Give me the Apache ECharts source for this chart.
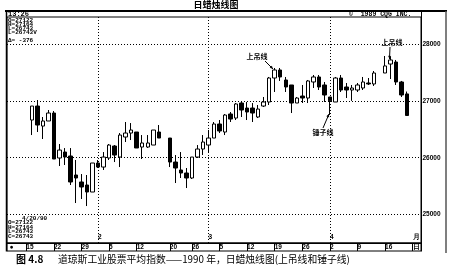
<!DOCTYPE html>
<html><head><meta charset="utf-8">
<script src="https://cdn.jsdelivr.net/npm/echarts@6.0.0/dist/echarts.min.js"></script>
<style>html,body{margin:0;padding:0;background:#fff}#c{width:450px;height:266px}</style>
</head><body><div id="c"></div>
<script>
// ---- data (Dow Jones Industrial Average x10, Jan 15 - Apr 20, 1990; one entry per weekday) ----
const opens  = [null,26663,26909,26557,26646,26786,25995,26100,26030,25696,25573,25520,25397,25907,25836,25995,26206,26012,26364,26434,26452,26188,26188,26223,26452,null,26346,25924,25784,25731,25643,26012,26153,26223,26346,26593,26452,26769,26698,26962,26874,26874,26716,26909,26980,27402,27543,27367,27279,26962,27085,27050,27332,27420,27279,27068,26980,27402,27244,27191,27191,27226,27314,27297,null,27490,27648,27683,27332,27122];
const closes = [null,26909,26575,26646,26786,25977,26135,26012,25573,25643,25485,25397,25907,25836,26012,26223,26047,26399,26434,26487,26171,26259,26259,26487,26346,null,25924,25819,25731,25643,26012,26153,26276,26346,26593,26470,26751,26680,26945,26839,26804,26786,26856,26980,27402,27543,27420,27244,26962,27050,27050,27350,27420,27244,27103,27000,27402,27191,27191,27226,27279,27332,27297,27490,null,27614,27719,27332,27103,26743];
const lows   = [null,26399,26452,26329,26646,25977,25854,25872,25520,25203,25274,25150,25397,25819,25784,25960,25924,25836,26276,26311,26171,25977,26171,26223,26346,null,25836,25555,25643,25467,25626,25995,26047,26100,26346,26434,26399,26628,26663,26716,26663,26628,26698,26892,26927,27156,27350,27156,26786,26962,26962,26962,27226,27191,26980,26751,26980,27156,27050,27000,27156,27191,27279,27262,null,27490,27384,27279,27068,26743];
const highs  = [null,26909,27015,26716,26839,26821,26241,26170,26170,25960,25713,25696,25907,25960,26100,26241,26223,26434,26628,26610,26452,26399,26399,26487,26575,null,26346,26047,26100,25819,26012,26223,26399,26487,26628,26663,26769,26804,26962,26980,26980,26962,26927,27068,27420,27578,27578,27420,27279,27068,27279,27367,27455,27455,27332,27068,27420,27455,27314,27279,27314,27420,27402,27525,null,27789,27772,27719,27350,27164];
// tick labels
const weekTickDates  = ['1/15','1/22','1/29','2/5','2/12','2/20','2/26','3/5','3/12','3/19','3/26','4/2','4/9','4/16'];
const monthTickDates = ['2/1','3/1','4/2'];
const monthTickText  = ['2','3','4'];
const priceTicks     = [25000,26000,27000,28000];
const infoTop    = ['O=27122','H=27164','L=26743','L=26743V','\u0394= -376'];
const infoBottom = ['4/20/90','O=27122','H=27164','L=26743','C=26743'];

// ---- build weekday categories ----
const PAD_L = 3, PAD_R = 2;
const weekdays = [];
(function(){ const d = new Date(1990,0,15); while (weekdays.length < opens.length) { const g = d.getDay(); if (g>0 && g<6) weekdays.push((d.getMonth()+1)+'/'+d.getDate()); d.setDate(d.getDate()+1);} })();
const cats = [];
for (let i=0;i<PAD_L;i++) cats.push('p'+i);
weekdays.forEach(w=>cats.push(w));
for (let i=0;i<PAD_R;i++) cats.push('q'+i);
const stripLabels = cats.map((c,i)=>{
  if (i===0) return '\u25CF';
  if (i===PAD_L+weekdays.length) return '日';
  const k = weekTickDates.indexOf(c);
  return k>=0 ? c.split('/')[1] : '';
});
const monthLabels = cats.map((c,i)=>{
  if (i===PAD_L+weekdays.length) return '月';
  const k = monthTickDates.indexOf(c);
  return k>=0 ? monthTickText[k] : '';
});
const candleData = cats.map((c,i)=>{
  const w = i-PAD_L;
  if (w<0 || w>=opens.length || opens[w]==null) return ['-','-','-','-'];
  return [opens[w], closes[w], lows[w], highs[w]];
});

const NUM = 'Liberation Sans', CJK = 'Noto Sans CJK SC', MONO = 'Liberation Mono';
const chart = echarts.init(document.getElementById('c'));
const g = [];
function line(x1,y1,x2,y2,w,col){ g.push({type:'line', shape:{x1,y1,x2,y2}, style:{stroke:col||'#000', lineWidth:w||1}, silent:true}); }
function txt(x,y,s,o){ g.push(Object.assign({type:'text', x, y, style:Object.assign({text:s, fill:'#000', font:'bold 6px '+MONO, textVerticalAlign:'middle'}, o||{})})); }
function arrow(x1,y1,x2,y2){
  line(x1,y1,x2,y2,1);
  const a = Math.atan2(y2-y1,x2-x1), L=3.5, s=0.45;
  g.push({type:'polygon', shape:{points:[[x2,y2],[x2-L*Math.cos(a-s),y2-L*Math.sin(a-s)],[x2-L*Math.cos(a+s),y2-L*Math.sin(a+s)]]}, style:{fill:'#000'}});
}
// frame
line(5,11,447,11,2);
line(6.5,11,6.5,251.5,1.5);
line(421.5,11,421.5,251.5,1);
line(446,11,446,253,1.5,'#555');
// header
txt(216,5,'日蜡烛线图',{font:'bold 9px '+CJK, textAlign:'center'});
txt(8,14.5,'13:26',{font:'bold 7px '+MONO});
txt(349,14,'\u00A9  1989 CQG INC.',{font:'bold 6.5px '+MONO});
infoTop.forEach((s,i)=>txt(8,[20,24.2,28.4,32.6,40][i],s,{font:'bold 6px '+MONO}));
infoBottom.forEach((s,i)=>txt(i===0?22:8,[218,222.8,227.2,231.6,236][i],s,{font:'bold 6px '+MONO}));
// annotations
txt(257,56.5,'上吊线',{font:'bold 7px '+CJK, textAlign:'center', backgroundColor:'#fff'});
arrow(265,61,273,69);
txt(392,42.5,'上吊线',{font:'bold 7px '+CJK, textAlign:'center', backgroundColor:'#fff', padding:[0,1]});
arrow(390,47,389.5,59);
txt(323,132.5,'锤子线',{font:'bold 7px '+CJK, textAlign:'center', backgroundColor:'#fff'});
arrow(323,128,329,114);
// caption
txt(16,259,'图 4.8',{font:'bold 10px '+CJK});
txt(58,259,'道琼斯工业股票平均指数——1990 年，日蜡烛线图(上吊线和锤子线)',{font:'9.8px '+CJK});

const option = {
  animation:false,
  grid:[
    {left:7, right:29, top:17, height:226, show:true, borderColor:'#000', borderWidth:1, backgroundColor:'transparent'},
    {left:7, right:29, top:243, height:8, show:true, borderColor:'#000', borderWidth:1, backgroundColor:'transparent'}
  ],
  xAxis:[
    {type:'category', gridIndex:0, data:cats, boundaryGap:true,
     axisLine:{show:true, lineStyle:{color:'#000', width:1}}, axisTick:{show:false},
     axisLabel:{show:true, inside:true, interval:0, formatter:(v,i)=>monthLabels[i], align:'left', fontSize:6.5, fontWeight:'bold', color:'#000', margin:2, fontFamily:NUM},
     splitLine:{show:true, alignWithLabel:true, interval:(i)=>monthLabels[i]!=='' && monthLabels[i]!=='月', lineStyle:{color:'#000', type:[1,2], width:1}}},
    {type:'category', gridIndex:1, data:cats, boundaryGap:true,
     axisLine:{show:false}, axisTick:{show:false},
     axisLabel:{show:true, inside:true, interval:0, formatter:(v,i)=>stripLabels[i], align:'left', verticalAlign:'bottom', fontSize:6.5, fontWeight:'bold', color:'#000', margin:0.5, fontFamily:NUM},
     splitLine:{show:true, alignWithLabel:true, interval:(i)=>i>0 && stripLabels[i]!=='', lineStyle:{color:'#000', width:1}}}
  ],
  yAxis:[
    {type:'value', gridIndex:0, position:'right', min:24500, max:28475, interval:500,
     axisLine:{show:true, lineStyle:{color:'#000'}}, axisTick:{show:false},
     axisLabel:{formatter:v=>priceTicks.indexOf(v)>=0?String(v):'', margin:1.5, fontSize:6.5, fontWeight:'bold', color:'#000', fontFamily:NUM},
     splitLine:{show:true, lineStyle:{color:['rgba(0,0,0,0)','#000'], type:[1,2], width:1}}},
    {type:'value', gridIndex:1, show:false, min:0, max:1}
  ],
  series:[{type:'candlestick', xAxisIndex:0, yAxisIndex:0, data:candleData, barWidth:4,
    itemStyle:{color:'#fff', color0:'#000', borderColor:'#000', borderColor0:'#000', borderWidth:1}}],
  graphic:g
};
chart.setOption(option);
</script></body></html>
